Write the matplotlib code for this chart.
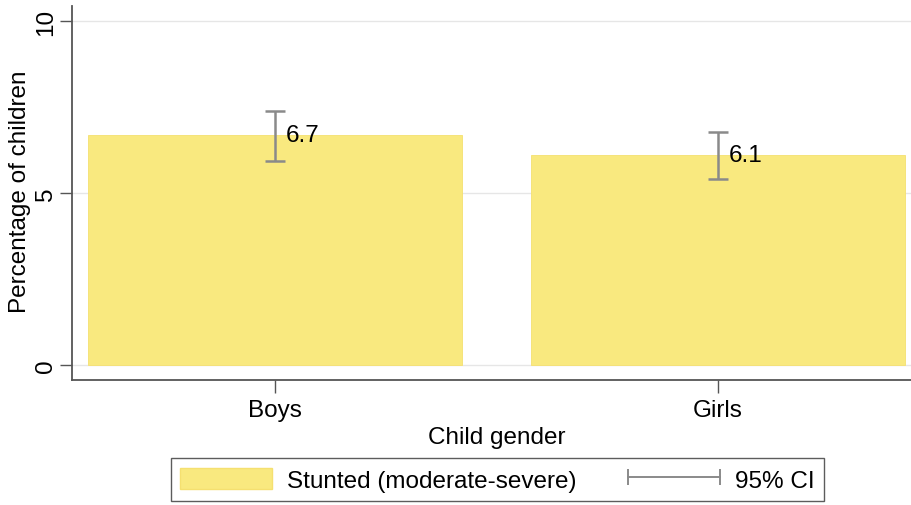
import matplotlib
matplotlib.use("Agg")
import matplotlib.pyplot as plt
from matplotlib.patches import Patch
from matplotlib.lines import Line2D
from matplotlib.legend_handler import HandlerLine2D

plt.rcParams['font.family'] = ['Liberation Sans', 'DejaVu Sans']

categories = ["Boys", "Girls"]
stunted = [6.7, 6.1]
ci_low = [5.93, 5.41]
ci_high = [7.38, 6.77]
y_ticks = [0, 5, 10]

bar_color = "#F9E97F"
bar_edge = "#F5E070"
ci_color = "#8A8A8A"
axis_color = "#555555"
fs = 17.5

fig = plt.figure(figsize=(9.11, 5.06), dpi=100)
W, H = 911, 506
left, right, bottom, top = 72, 921, 381, 7
ax = fig.add_axes([left / W, (H - bottom) / H, (right - left) / W, (bottom - top) / H])

x = list(range(len(categories)))
ax.bar(x, stunted, width=0.846, color=bar_color, edgecolor=bar_edge, linewidth=0.6, zorder=2)

err_lo = [v - lo for v, lo in zip(stunted, ci_low)]
err_hi = [hi - v for v, hi in zip(stunted, ci_high)]
ax.errorbar(x, stunted, yerr=[err_lo, err_hi], fmt="none", ecolor=ci_color,
            elinewidth=1.8, capsize=7, capthick=1.8, zorder=3)

for xi, v in zip(x, stunted):
    ax.text(xi + 0.024, v, f"{v:.1f}", ha="left", va="center", fontsize=fs, color="black", zorder=4)

ax.set_xlim(-0.458, 1.458)
ax.set_ylim(-0.44, 10.44)
ax.set_xticks(x)
ax.set_xticklabels(categories, fontsize=fs)
ax.set_yticks(y_ticks)
ax.set_yticklabels([str(t) for t in y_ticks], fontsize=fs, rotation=90, va="center")
ax.yaxis.grid(True, color="#E6E6E6", linewidth=1.0, zorder=0)
ax.set_axisbelow(True)

for side in ("top", "right"):
    ax.spines[side].set_visible(False)
for side in ("left", "bottom"):
    ax.spines[side].set_color(axis_color)
    ax.spines[side].set_linewidth(1.3)
ax.tick_params(axis="x", length=9, width=1.0, color=axis_color, pad=5)
ax.tick_params(axis="y", length=9, width=1.0, color=axis_color, pad=2)

ax.set_xlabel("Child gender", fontsize=fs, labelpad=3)
ax.set_ylabel("Percentage of children", fontsize=fs, va="center")
ax.yaxis.set_label_coords(-52 / (right - left), 0.505)

ci_handle = Line2D([], [], color=ci_color, linewidth=1.4, marker="|", markersize=11,
                   markeredgewidth=1.4, label="95% CI")
handles = [
    Patch(facecolor=bar_color, edgecolor=bar_edge, label="Stunted (moderate-severe)"),
    ci_handle,
]
leg = fig.legend(handles=handles, loc="lower center", bbox_to_anchor=(497.5 / W, 4 / H),
                 ncol=2, fontsize=fs, frameon=True, fancybox=False, numpoints=2,
                 handlelength=3.78, handleheight=1.0, columnspacing=2.1, borderpad=0.38,
                 handletextpad=0.62, borderaxespad=0,
                 handler_map={ci_handle: HandlerLine2D(marker_pad=0)})
leg.get_frame().set_edgecolor("#333333")
leg.get_frame().set_linewidth(1.0)

fig.savefig("out.png", dpi=100)
